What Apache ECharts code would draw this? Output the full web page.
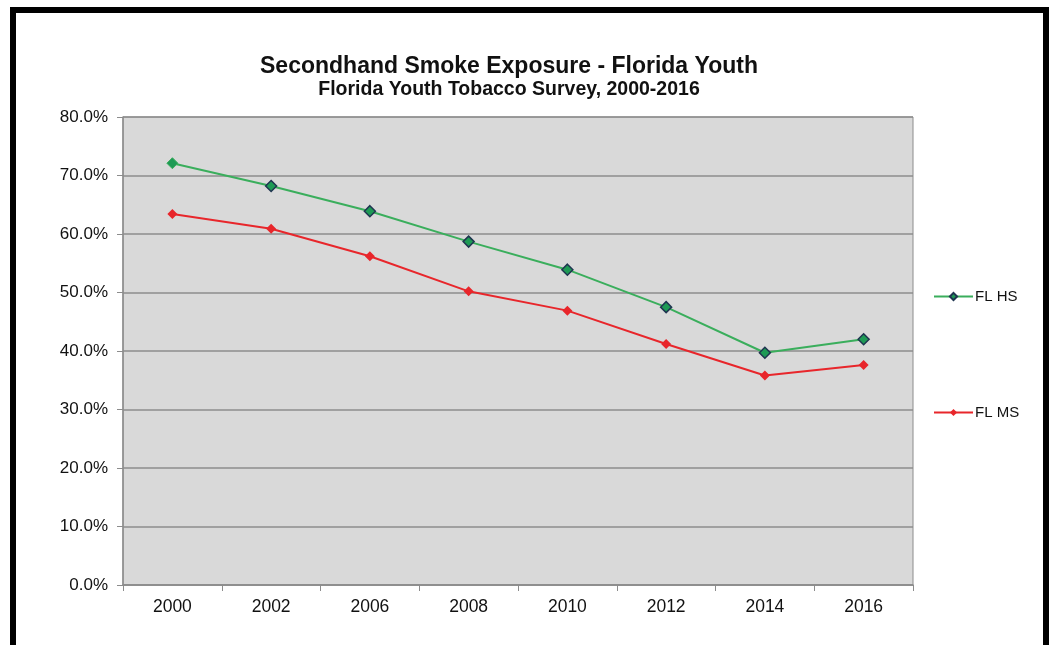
<!DOCTYPE html>
<html>
<head>
<meta charset="utf-8">
<script src="https://cdn.jsdelivr.net/npm/echarts@6/dist/echarts.min.js"></script>
<style>
  html, body { margin:0; padding:0; background:#fff; }
  #frame { position:absolute; left:10px; top:7px; width:1039px; height:660px; border:6px solid #000; border-bottom:none; box-sizing:border-box; }
  #chart { position:absolute; left:0; top:0; width:1051px; height:645px; }
</style>
</head>
<body>
<div id="chart"></div>
<div id="frame"></div>
<script>
  // 数据
  var years = ['2000', '2002', '2006', '2008', '2010', '2012', '2014', '2016'];
  var flHS = [72.1, 68.2, 63.9, 58.7, 53.9, 47.5, 39.7, 42.0];
  var flMS = [63.4, 60.9, 56.2, 50.2, 46.9, 41.2, 35.8, 37.6];
  var yTicks = [0, 10, 20, 30, 40, 50, 60, 70, 80];

  var green = '#3aae5c';
  var red = '#e8262b';
  var font = 'Liberation Sans, Arial, sans-serif';

  var myChart = echarts.init(document.getElementById('chart'));

  var option = {
    backgroundColor: '#fff',
    animation: false,
    title: [
      {
        text: 'Secondhand Smoke Exposure - Florida Youth',
        left: 504, top: 50, textAlign: 'center',
        textStyle: { fontFamily: font, fontSize: 23, fontWeight: 'bold', color: '#111' }
      },
      {
        text: 'Florida Youth Tobacco Survey, 2000-2016',
        left: 504, top: 75, textAlign: 'center',
        textStyle: { fontFamily: font, fontSize: 19.5, fontWeight: 'bold', color: '#111' }
      }
    ],
    legend: [
      {
        data: ['FL HS'], left: 928, top: 284, orient: 'vertical',
        itemWidth: 39, itemHeight: 9, itemGap: 4,
        textStyle: { fontFamily: font, fontSize: 15, color: '#111', padding: [0, 0, 0, -3] }
      },
      {
        data: ['FL MS'], left: 928, top: 400, orient: 'vertical',
        itemWidth: 39, itemHeight: 9, itemGap: 4,
        textStyle: { fontFamily: font, fontSize: 15, color: '#111', padding: [0, 0, 0, -3] }
      }
    ],
    grid: {
      left: 123, top: 117, width: 790, height: 468,
      show: true, backgroundColor: '#d9d9d9', borderColor: '#8c8c8c', borderWidth: 1
    },
    xAxis: {
      type: 'category',
      data: years,
      boundaryGap: true,
      axisLine: { lineStyle: { color: '#8c8c8c', width: 1.5 } },
      axisTick: { show: true, length: 6, lineStyle: { color: '#8c8c8c' } },
      axisLabel: { fontFamily: font, fontSize: 17.5, color: '#111', margin: 13 }
    },
    yAxis: {
      type: 'value',
      min: yTicks[0], max: yTicks[yTicks.length - 1], interval: 10,
      axisLine: { show: true, lineStyle: { color: '#8c8c8c', width: 1.5 } },
      axisTick: { show: true, length: 6, lineStyle: { color: '#8c8c8c' } },
      axisLabel: {
        fontFamily: font, fontSize: 17, color: '#111', margin: 15,
        formatter: function (v) { return v.toFixed(1) + '%'; }
      },
      splitLine: { show: true, lineStyle: { color: '#8c8c8c', width: 1.5 } }
    },
    series: [
      {
        name: 'FL HS',
        type: 'line',
        data: flHS.map(function (v, i) {
          // 第一个点没有深色边框
          return i === 0 ? { value: v, itemStyle: { borderColor: green, borderWidth: 1 } } : v;
        }),
        color: green,
        symbol: 'diamond',
        symbolSize: 11,
        lineStyle: { color: green, width: 2 },
        itemStyle: { color: '#1e9a55', borderColor: '#1f3550', borderWidth: 1.5 }
      },
      {
        name: 'FL MS',
        type: 'line',
        data: flMS,
        color: red,
        symbol: 'diamond',
        symbolSize: 10,
        lineStyle: { color: red, width: 2 },
        itemStyle: { color: red, borderWidth: 0 }
      }
    ]
  };

  myChart.setOption(option);

  window.addEventListener('resize', function () {
    myChart.resize();
  });
</script>
</body>
</html>
